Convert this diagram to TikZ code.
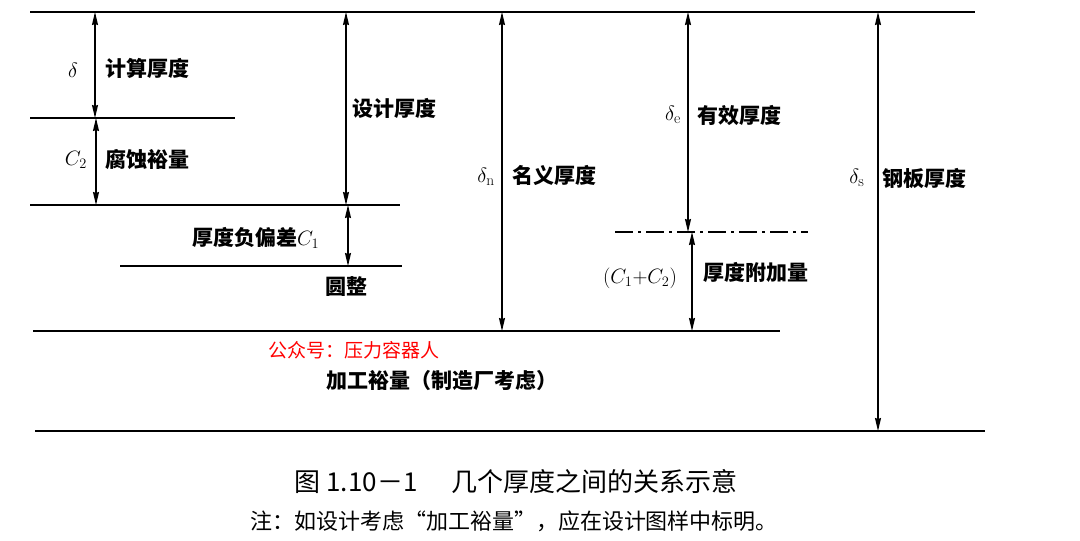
\documentclass[tikz,border=0pt]{standalone}
\usepackage{fontspec}
\newfontfamily\cjk{Noto Sans CJK SC}
\usepackage{amsmath}
\usetikzlibrary{arrows.meta}

\begin{document}
\begin{tikzpicture}[>={Stealth[length=13pt,width=6pt,inset=1pt]}, x=1pt, y=-1pt]
	\tikzstyle{plate} = [line width=2pt]
	\tikzstyle{dim} = [<->, line width=1.3pt]
	\tikzstyle{word} = [font=\cjk\bfseries\fontsize{21}{24}\selectfont, inner sep=0pt, anchor=west]
	\tikzstyle{sym} = [font=\fontsize{22}{24}\selectfont, inner sep=0pt]
	\useasboundingbox (0,0) rectangle (1080,541);
	% plate lines
	\draw[plate] (30,12) -- (975,12);
	\draw[plate] (30,118) -- (235,118);
	\draw[plate] (30,205) -- (400,205);
	\draw[plate] (120,266) -- (402,266);
	\draw[plate, dash pattern=on 18pt off 5pt on 3pt off 5pt] (615,232) -- (808,232);
	\draw[plate] (33,331) -- (780,331);
	\draw[plate] (35,431) -- (985,431);
	% arrow ends
	\coordinate (dA) at (95,12);   \coordinate (dB) at (95,118);
	\coordinate (cA) at (96,118);  \coordinate (cB) at (96,205);
	\coordinate (sA) at (346,12);  \coordinate (sB) at (346,205);
	\coordinate (fA) at (348,205); \coordinate (fB) at (348,266);
	\coordinate (nA) at (502,12);  \coordinate (nB) at (502,331);
	\coordinate (eA) at (688,12);  \coordinate (eB) at (688,232);
	\coordinate (aA) at (692,232); \coordinate (aB) at (692,331);
	\coordinate (pA) at (878,12);  \coordinate (pB) at (878,431);
	\path[dim]
	  (dA) edge (dB)
	  (cA) edge (cB)
	  (sA) edge (sB)
	  (fA) edge (fB)
	  (nA) edge (nB)
	  (eA) edge (eB)
	  (aA) edge (aB)
	  (pA) edge (pB)
	  ;
	% labels
	\node[sym] (delta) at (73,70) {$\delta$};
	\node[word] (calc) at (105,68) {计算厚度};
	\node[sym] (ctwo) at (76,160) {$C_2$};
	\node[word] (corr) at (105,160) {腐蚀裕量};
	\node[word] (design) at (352,108) {设计厚度};
	\node[word] (neg) at (192,238) {厚度负偏差$C_1$};
	\node[word] (round) at (325,287) {圆整};
	\node[sym] (deltan) at (486,177) {$\delta_{\mathrm{n}}$};
	\node[word] (nominal) at (512,175) {名义厚度};
	\node[sym] (deltae) at (673,115) {$\delta_{\mathrm{e}}$};
	\node[word] (eff) at (697,115) {有效厚度};
	\node[sym] (cc) at (640,278) {$(C_1{+}C_2)$};
	\node[word] (extra) at (703,272) {厚度附加量};
	\node[sym] (deltas) at (857,178) {$\delta_{\mathrm{s}}$};
	\node[word] (steel) at (882,178) {钢板厚度};
	\node[word, red, font=\cjk\fontsize{19}{22}\selectfont] (mark) at (268,350) {公众号：压力容器人};
	\node[word] (machine) at (326,381) {加工裕量（制造厂考虑）};
	\node[font=\cjk\fontsize{26}{28}\selectfont, inner sep=0pt] (title) at (516,482) {图 1.10－1\hspace{1.3em}几个厚度之间的关系示意};
	\node[font=\cjk\fontsize{22}{24}\selectfont, inner sep=0pt] (note) at (514,521) {注：如设计考虑“加工裕量”，应在设计图样中标明。};
\end{tikzpicture}
\end{document}
